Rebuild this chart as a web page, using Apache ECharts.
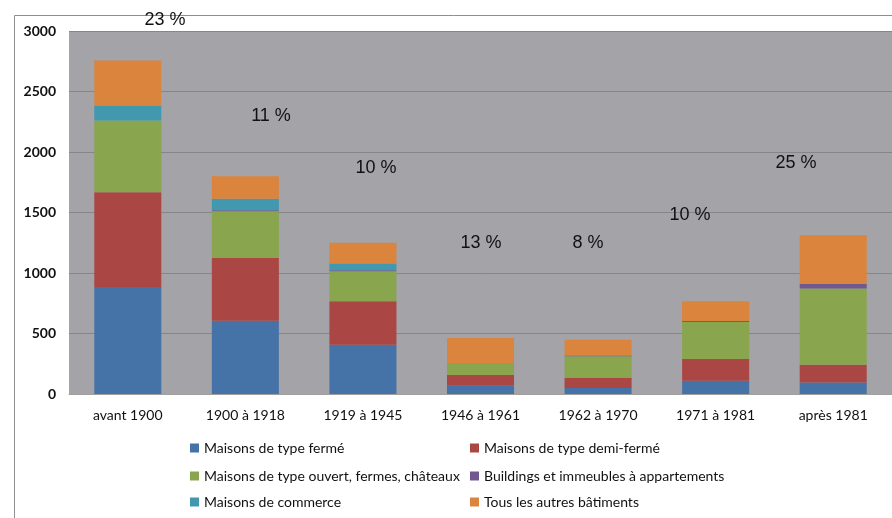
<!DOCTYPE html>
<html>
<head>
<meta charset="utf-8">
<script src="https://cdn.jsdelivr.net/npm/echarts@6/dist/echarts.min.js"></script>
<style>html,body{margin:0;padding:0;background:#fff}#c{width:892px;height:518px}</style>
</head>
<body>
<div id="c"></div>
<script>
const categories = ['avant 1900', '1900 à 1918', '1919 à 1945', '1946 à 1961', '1962 à 1970', '1971 à 1981', 'après 1981'];
const seriesNames = ['Maisons de type fermé', 'Maisons de type demi-fermé', 'Maisons de type ouvert, fermes, châteaux', 'Buildings et immeubles à appartements', 'Maisons de commerce', 'Tous les autres bâtiments'];
const ferme = [885, 606, 408, 69, 50, 110, 96];
const demiFerme = [783, 519, 358, 88, 85, 180, 146];
const ouvert = [593, 386, 248, 99, 176, 306, 629];
const buildings = [0, 8, 8, 0, 5, 8, 39];
const commerce = [119, 94, 56, 0, 5, 0, 0];
const autres = [377, 187, 171, 207, 128, 162, 402];
const percentLabels = ['23 %', '11 %', '10 %', '13 %', '8 %', '10 %', '25 %'];
const yTicks = [0, 500, 1000, 1500, 2000, 2500, 3000];

const colors = ['#4572a7', '#aa4643', '#89a54e', '#71588f', '#4198af', '#db843d'];
const values = [ferme, demiFerme, ouvert, buildings, commerce, autres];
const percentPos = [[165, 20], [271, 116], [376, 168], [481, 243], [588, 243], [690, 215], [796, 163]];
const legendPos = [[190, 449], [470, 449], [190, 477], [470, 477], [190, 503], [470, 503]];
const FONT = 'Lato, "Liberation Sans", sans-serif';

const chart = echarts.init(document.getElementById('c'), null, {renderer: 'canvas'});
const legendText = {fontFamily: FONT, fontSize: 14, color: '#111'};
chart.setOption({
  animation: false,
  backgroundColor: '#fff',
  color: colors,
  grid: {left: 69, right: -2, top: 31, bottom: 124, show: true, backgroundColor: '#a3a3a8', borderWidth: 0},
  xAxis: {
    type: 'category', data: categories,
    axisTick: {show: false},
    axisLine: {lineStyle: {color: '#a0a0a0'}},
    axisLabel: {fontFamily: FONT, fontSize: 14, color: '#111', margin: 14}
  },
  yAxis: {
    type: 'value', min: yTicks[0], max: yTicks[yTicks.length - 1], interval: 500,
    axisLine: {show: false}, axisTick: {show: false},
    splitLine: {lineStyle: {color: '#868689', width: 1}},
    axisLabel: {fontFamily: FONT, fontSize: 14, fontWeight: 'bold', color: '#111', margin: 13,
      formatter: v => String(v)}
  },
  legend: seriesNames.map((n, i) => ({
    orient: 'horizontal', left: legendPos[i][0], top: legendPos[i][1] - 8, padding: 0,
    itemWidth: 9, itemHeight: 9, itemGap: 4, icon: 'rect', data: [n], textStyle: legendText
  })),
  graphic: [
    {type: 'rect', z: -10, silent: true, shape: {x: 14.5, y: 15.5, width: 900, height: 520},
     style: {fill: 'none', stroke: '#8e8e8e', lineWidth: 1}}
  ].concat(percentLabels.map((t, i) => ({
    type: 'text', z: 100, x: percentPos[i][0], y: percentPos[i][1],
    style: {text: t, font: '18px "Liberation Sans", Arial, sans-serif', fill: '#111', align: 'center', verticalAlign: 'middle'}
  }))),
  series: seriesNames.map((n, i) => ({
    name: n, type: 'bar', stack: 'total', barWidth: '57%', data: values[i],
    itemStyle: {color: colors[i]}
  }))
});
</script>
</body>
</html>
